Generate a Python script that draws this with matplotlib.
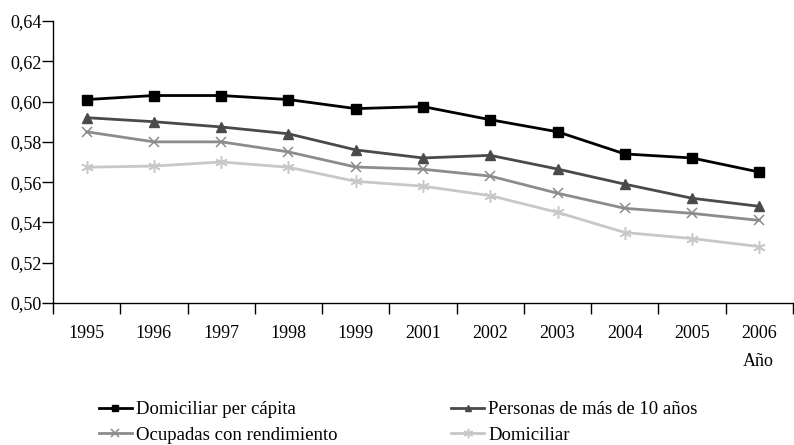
import matplotlib.pyplot as plt
import numpy as np
from matplotlib.ticker import FixedLocator, FuncFormatter

years = ['1995', '1996', '1997', '1998', '1999', '2001', '2002', '2003', '2004', '2005', '2006']
dom_per_capita = [0.601, 0.603, 0.603, 0.601, 0.5965, 0.5975, 0.591, 0.585, 0.574, 0.572, 0.565]
personas_10 = [0.592, 0.590, 0.5874, 0.584, 0.576, 0.572, 0.5733, 0.5665, 0.559, 0.552, 0.548]
ocupadas = [0.585, 0.580, 0.580, 0.575, 0.5675, 0.5664, 0.563, 0.5545, 0.547, 0.5445, 0.541]
domiciliar = [0.5674, 0.568, 0.570, 0.5674, 0.5604, 0.558, 0.5533, 0.545, 0.535, 0.532, 0.528]

plt.rcParams['font.family'] = ['Liberation Serif', 'DejaVu Serif']
fs = 13

fig = plt.figure(figsize=(7.94, 4.45), dpi=100)
ax = fig.add_axes([53 / 794, 1 - 303 / 445, 740 / 794, 282 / 445])

x = np.arange(len(years))
l1, = ax.plot(x, dom_per_capita, color='black', lw=2, marker='s', ms=6.5, label='Domiciliar per cápita')
l2, = ax.plot(x, personas_10, color='#4a4a4a', lw=2, marker='^', ms=6.5, label='Personas de más de 10 años')
l3, = ax.plot(x, ocupadas, color='#8c8c8c', lw=2, marker='x', ms=7, mew=1.1, label='Ocupadas con rendimiento')
l4, = ax.plot(x, domiciliar, color='#c8c8c8', lw=2, marker=(6, 2, 0), ms=9, mew=1.1, label='Domiciliar')

ax.set_xlim(-0.5, len(years) - 0.5)
ax.set_ylim(0.50, 0.64)
ax.set_yticks(np.arange(0.50, 0.6401, 0.02))
ax.yaxis.set_major_formatter(FuncFormatter(lambda v, p: f'{v:.2f}'.replace('.', ',')))
ax.tick_params(axis='y', direction='out', length=8, width=1, labelsize=fs, pad=0)

ax.set_xticks(x)
ax.set_xticklabels(years)
ax.xaxis.set_minor_locator(FixedLocator(np.arange(-0.5, len(years), 1.0)))
ax.tick_params(axis='x', which='major', length=0, labelsize=fs, pad=16)
ax.tick_params(axis='x', which='minor', direction='out', length=8, width=1)

ax.spines['top'].set_visible(False)
ax.spines['right'].set_visible(False)
ax.spines['bottom'].set_linewidth(1)
ax.spines['left'].set_linewidth(1)

fig.text(743 / 794, 1 - 362 / 445, 'Año', fontsize=fs, va='center', ha='left')

fig.legend([l1, l3, l2, l4], [l1.get_label(), l3.get_label(), l2.get_label(), l4.get_label()],
           ncol=2, loc='upper left', bbox_to_anchor=(99 / 794, 1 - 401 / 445),
           frameon=False, fontsize=13.5, numpoints=1, handlelength=1.75, markerscale=0.75,
           handletextpad=0.2, columnspacing=6.1, labelspacing=0.45, borderaxespad=0,
           borderpad=0)

fig.savefig('out.png', dpi=100)
